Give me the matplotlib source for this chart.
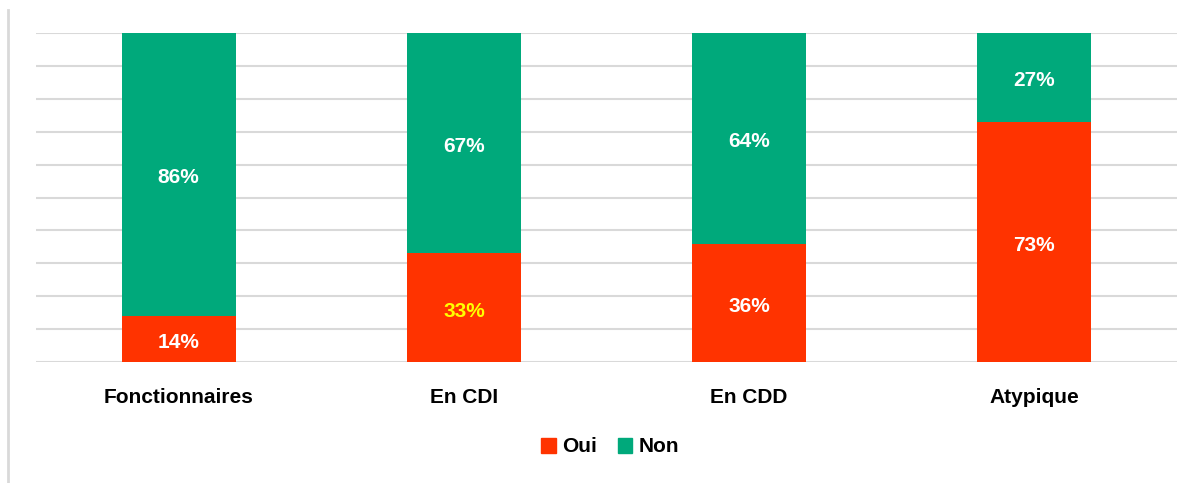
import numpy as np
import matplotlib
matplotlib.use("Agg")
import matplotlib.pyplot as plt
from matplotlib.lines import Line2D
from matplotlib.patches import Patch
from matplotlib import font_manager

categories = ["Fonctionnaires", "En CDI", "En CDD", "Atypique"]
oui = [14, 33, 36, 73]
non = [86, 67, 64, 27]
oui_label_colors = ["white", "#FFFF00", "white", "white"]

green = "#00A97B"
red = "#FF3300"
names = {f.name for f in font_manager.fontManager.ttflist}
font = [n for n in ["DejaVu Sans Condensed", "Liberation Sans Narrow", "Liberation Sans"] if n in names]
print(font)

fig = plt.figure(figsize=(12.01, 4.83), dpi=100)
ax = fig.add_axes([36 / 1201, (483 - 362) / 483, 1141 / 1201, 329 / 483])

x = np.arange(len(categories))
ax.bar(x, oui, width=0.4, color=red, zorder=3)
ax.bar(x, non, width=0.4, bottom=oui, color=green, zorder=3)

for i in range(len(categories)):
    ax.text(x[i], oui[i] / 2 - 1, f"{oui[i]}%", ha="center", va="center",
            color=oui_label_colors[i], fontsize=15, fontweight="bold", family=font, zorder=4)
    ax.text(x[i], oui[i] + non[i] / 2 - 1, f"{non[i]}%", ha="center", va="center",
            color="white", fontsize=15, fontweight="bold", family=font, zorder=4)

ax.set_xlim(-0.5, len(categories) - 0.5)
ax.set_ylim(0, 100)
ax.set_yticks(np.arange(0, 101, 10))
ax.yaxis.grid(True, color="#D9D9D9", linewidth=1.5, zorder=0)
ax.tick_params(left=False, labelleft=False, bottom=False)
ax.set_xticks(x)
ax.set_xticklabels(categories, fontsize=15, fontweight="bold", family=font)
ax.tick_params(axis="x", pad=15)
for s in ax.spines.values():
    s.set_visible(False)

handles = [Patch(color=red, label="Oui"), Patch(color=green, label="Non")]
fig.legend(handles=handles, loc="center", bbox_to_anchor=(610 / 1201, 1 - 447 / 483),
           ncol=2, frameon=False, handlelength=0.7, handleheight=0.7,
           handletextpad=0.3, columnspacing=1.0,
           prop={"family": font, "weight": "bold", "size": 15})

fig.add_artist(Line2D([8 / 1201, 8 / 1201], [0, 1 - 10 / 483], color="#D9D9D9",
                      linewidth=2, transform=fig.transFigure))

fig.savefig("out.png", dpi=100)
